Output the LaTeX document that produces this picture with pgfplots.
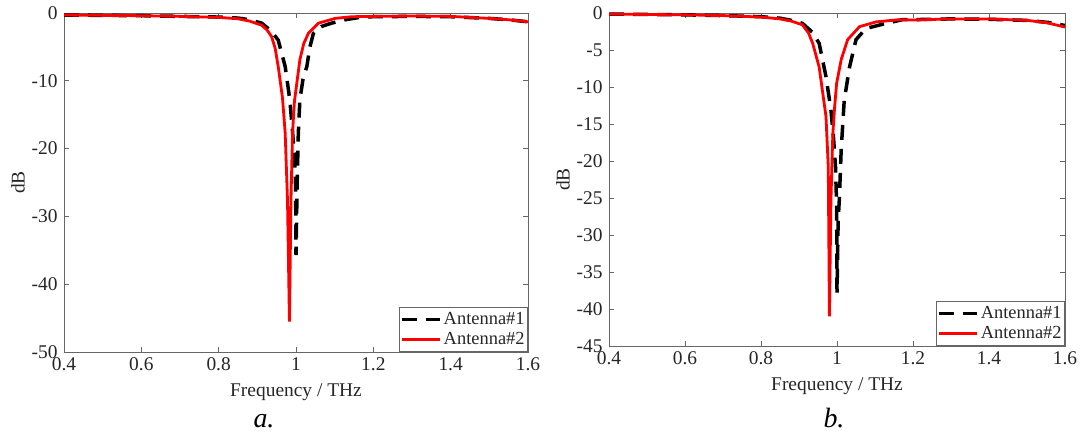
\documentclass[border=0pt]{standalone}
\usepackage{pgfplots}
\pgfplotsset{compat=1.18}
\usepackage{fontspec}
\setmainfont{Liberation Serif}
\definecolor{mgray}{rgb}{0.15,0.15,0.15}
\definecolor{agray}{rgb}{0.4,0.4,0.4}
\pgfplotsset{
  mystyle/.style={
    scale only axis,
    axis line style={agray, line width=0.8bp},
    tick style={agray, line width=0.8bp},
    major tick length=5bp,
    tick align=inside,
    xmin=0.4, xmax=1.6,
    xtick={0.4,0.6,0.8,1,1.2,1.4,1.6},
    xticklabels={0.4,0.6,0.8,1,1.2,1.4,1.6},
    tick label style={font=\fontsize{19.5}{21}\selectfont, text=mgray},
    xticklabel style={yshift=-2bp},
    yticklabel style={xshift=-3bp},
    label style={font=\fontsize{19.5}{21}\selectfont, text=mgray},
    xlabel={Frequency / THz},
    ylabel={dB},
    xlabel style={yshift=-6bp},
    ylabel style={yshift=0bp},
    legend style={at={(1,0)}, anchor=south east, draw=agray, line width=0.8bp,
      font=\fontsize{18.5}{20}\selectfont, text=mgray, inner xsep=1bp, inner ysep=2.5bp, row sep=0bp,
      nodes={inner xsep=2bp, inner ysep=3bp},
      cells={anchor=west}},
    legend image code/.code={\draw[##1] (0bp,0bp) -- (38bp,0bp);},
  },
  a1/.style={black, line width=3.5bp, dash pattern=on 15bp off 9bp},
  a2/.style={red, line width=2.8bp},
}
\begin{document}
\begin{tikzpicture}[x=1bp,y=1bp]
\useasboundingbox (0,0) rectangle (1081,435);
\begin{axis}[mystyle, at={(64bp,83bp)}, anchor=south west, width=464bp, height=339bp,
  ymin=-50, ymax=0, ytick={-50,-40,-30,-20,-10,0}, yticklabels={-50,-40,-30,-20,-10,0}]
\addplot[a1] coordinates {
(0.40,-0.30)(0.50,-0.35)(0.60,-0.40)(0.70,-0.50)(0.80,-0.60)(0.85,-0.75)(0.88,-1.0)
(0.911,-1.5)(0.935,-2.6)(0.954,-4.0)(0.972,-7.9)(0.984,-12.8)(0.991,-17.5)(0.996,-21.2)
(0.999,-25.6)(1.000,-35.7)(1.003,-25.0)(1.006,-17.7)(1.010,-12.8)(1.018,-9.8)(1.028,-7.9)
(1.036,-5.0)(1.045,-3.0)(1.065,-2.0)(1.092,-1.5)(1.127,-1.0)(1.170,-0.6)(1.2,-0.55)
(1.3,-0.5)(1.4,-0.55)(1.5,-0.8)(1.55,-1.0)(1.6,-1.3)};
\addlegendentry{Antenna\#1}
\addplot[a2] coordinates {
(0.40,-0.30)(0.50,-0.35)(0.60,-0.40)(0.70,-0.50)(0.80,-0.65)(0.85,-0.85)(0.88,-1.2)
(0.911,-1.8)(0.925,-2.5)(0.937,-3.5)(0.946,-5.2)(0.954,-7.9)(0.965,-12.5)(0.972,-17.7)(0.978,-27.6)(0.983,-45.5)
(0.987,-27.6)(0.991,-17.7)(0.996,-13.0)(1.002,-10.4)(1.010,-6.9)(1.020,-4.5)(1.032,-3.0)(1.058,-1.5)
(1.101,-0.8)(1.144,-0.55)(1.2,-0.5)(1.3,-0.45)(1.4,-0.5)(1.5,-0.8)(1.55,-1.0)(1.6,-1.3)};
\addlegendentry{Antenna\#2}
\end{axis}
\begin{axis}[mystyle, at={(609bp,89bp)}, anchor=south west, width=456bp, height=333bp,
  ymin=-45, ymax=0, ytick={-45,-40,-35,-30,-25,-20,-15,-10,-5,0},
  yticklabels={-45,-40,-35,-30,-25,-20,-15,-10,-5,0}]
\addplot[a1] coordinates {
(0.40,-0.15)(0.5,-0.2)(0.6,-0.25)(0.7,-0.35)(0.8,-0.5)(0.85,-0.7)(0.88,-1.0)
(0.909,-1.4)(0.935,-2.6)(0.953,-4.1)(0.971,-8.6)(0.984,-13.1)(0.991,-17.0)(0.996,-20.8)
(0.999,-26.0)(1.000,-37.8)(1.003,-28.0)(1.006,-25.3)(1.011,-18.5)(1.019,-11.8)(1.033,-7.3)
(1.050,-3.6)(1.076,-2.1)(1.129,-1.4)(1.173,-0.9)(1.2,-0.9)(1.3,-0.8)(1.4,-0.85)(1.5,-1.0)
(1.56,-1.3)(1.6,-1.7)};
\addlegendentry{Antenna\#1}
\addplot[a2] coordinates {
(0.40,-0.15)(0.5,-0.2)(0.6,-0.25)(0.7,-0.35)(0.8,-0.55)(0.85,-0.8)(0.88,-1.1)
(0.909,-1.6)(0.925,-2.7)(0.936,-4.1)(0.953,-7.3)(0.971,-14.0)(0.977,-20.8)(0.980,-41.0)(0.984,-25.3)
(0.989,-16.3)(0.994,-12.5)(0.999,-9.5)(1.011,-6.3)(1.028,-3.6)(1.059,-1.85)(1.103,-1.2)(1.164,-0.9)
(1.2,-0.95)(1.3,-0.8)(1.4,-0.8)(1.5,-1.0)(1.55,-1.3)(1.6,-1.9)};
\addlegendentry{Antenna\#2}
\end{axis}
\node[anchor=base, font=\fontsize{28}{30}\selectfont\itshape] at (264,7) {a.};
\node[anchor=base, font=\fontsize{28}{30}\selectfont\itshape] at (834,7) {b.};
\end{tikzpicture}
\end{document}
